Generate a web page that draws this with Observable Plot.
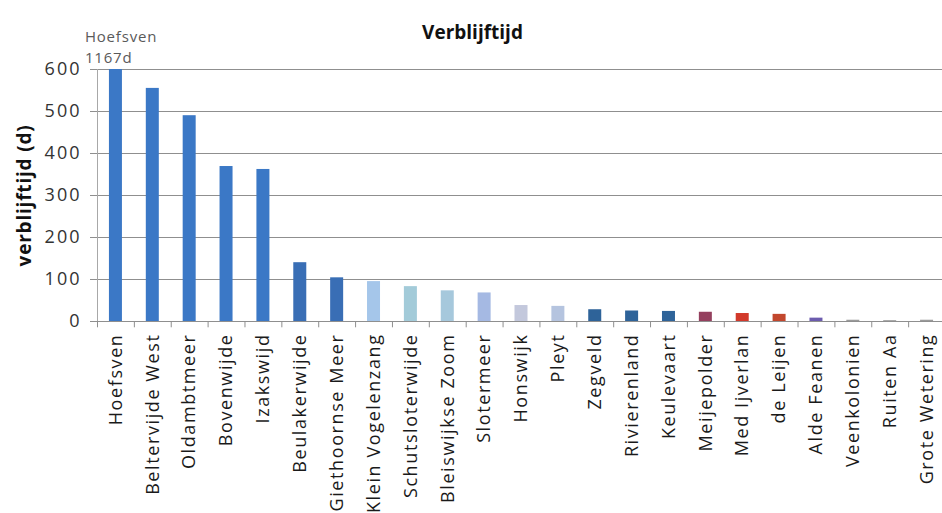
<!DOCTYPE html>
<html>
<head>
<meta charset="utf-8">
<script src="https://cdn.jsdelivr.net/npm/d3@7"></script>
<script src="https://cdn.jsdelivr.net/npm/@observablehq/plot@0.6"></script>
<style>
  html, body { margin: 0; padding: 0; background: #fff; }
  [aria-label="x-axis tick label"] text { letter-spacing: 1.6px; }
  [aria-label="y-axis tick label"] text { letter-spacing: 2px; }
  .ytitle text { letter-spacing: 0.8px; }
  .note text { letter-spacing: 0.8px; }
</style>
</head>
<body>
<div id="chart"></div>
<script>
// Residence time per lake, in days
const lakes = [
  "Hoefsven", "Beltervijde West", "Oldambtmeer", "Bovenwijde", "Izakswijd",
  "Beulakerwijde", "Giethoornse Meer", "Klein Vogelenzang", "Schutsloterwijde",
  "Bleiswijkse Zoom", "Slotermeer", "Honswijk", "Pleyt", "Zegveld",
  "Rivierenland", "Keulevaart", "Meijepolder", "Med Ijverlan", "de Leijen",
  "Alde Feanen", "Veenkolonien", "Ruiten Aa", "Grote Wetering"
];
const verblijftijd = [
  1167, 555, 490, 369, 362,
  140, 104, 95, 83,
  73, 68, 38, 36, 28,
  25, 24, 22, 19, 17,
  8, 3, 2, 3
];
const yTicks = [0, 100, 200, 300, 400, 500, 600];

// Bar fill per lake
const barColors = [
  "#3b78c6", "#3b78c6", "#3b78c6", "#3b78c6", "#3b78c6",
  "#396eb5", "#396eb5", "#a5c6ea", "#a3cbd9",
  "#a6c8dc", "#a5b9e3", "#c3c8dc", "#b5c4df", "#2e6399",
  "#2e6399", "#2e6399", "#94405e", "#d2392b", "#c2472d",
  "#6c5cae", "#9a9a9a", "#9a9a9a", "#9a9a9a"
];

const data = lakes.map((lake, i) => ({lake, value: verblijftijd[i], color: barColors[i]}));

const W = 942, H = 513;
const padL = 97, xEnd = 945, padT = 69, baseY = 321;
const step = (xEnd - padL) / lakes.length;   // one category slot
const barW = 13;
const inset = (step - barW) / 2;
const font = "'Open Sans', 'DejaVu Sans', sans-serif";

const chart = Plot.plot({
  width: W,
  height: H,
  marginLeft: padL,
  marginRight: 0,
  marginTop: padT,
  marginBottom: H - baseY,
  style: {fontFamily: font, fontSize: "16px", color: "#1a1a1a", background: "#fff", overflow: "hidden"},
  x: {type: "band", domain: lakes, range: [padL, xEnd], padding: 0, round: false},
  y: {domain: [0, 600]},
  color: {type: "identity"},
  marks: [
    Plot.gridY(yTicks, {stroke: "#8f8f8f", strokeOpacity: 1, strokeWidth: 1}),
    Plot.barY(data, {x: "lake", y: "value", fill: "color", insetLeft: inset, insetRight: inset, clip: true}),
    Plot.ruleY([0], {stroke: "#8f8f8f"}),
    Plot.frame({anchor: "left", stroke: "#a8a8a8"}),
    // category boundary tick marks
    Plot.ruleX(lakes, {x: d => d, dx: -step / 2, y1: 0, y2: -15, stroke: "#8f8f8f"}),
    Plot.axisY({ticks: yTicks, tickSize: 7, tickPadding: 9, label: null, fontSize: 18, stroke: "#8f8f8f", color: "#333"}),
    Plot.axisX({tickSize: 0, tickRotate: -90, tickPadding: 12, label: null, fontSize: 18}),
    Plot.text(["verblijftijd (d)"], {
      frameAnchor: "left", textAnchor: "middle", rotate: -90, dx: -73,
      fontSize: 19, fontWeight: "bold", fill: "#111", className: "ytitle"
    }),
    Plot.text(["Verblijftijd"], {
      frameAnchor: "top-left", textAnchor: "middle", dx: 472 - padL, dy: -44,
      fontSize: 19, fontWeight: "bold", fill: "#111"
    }),
    // value label for the bar cut off at the top of the axis
    Plot.text(data.slice(0, 1), {
      x: "lake", frameAnchor: "top",
      text: d => `${d.lake}\n${d.value}d`,
      textAnchor: "start", lineAnchor: "bottom", dx: -31, dy: -7,
      fontSize: 15, fill: "#5a5a5a", lineHeight: 1.4, className: "note"
    })
  ]
});

document.getElementById("chart").appendChild(chart);
</script>
</body>
</html>
